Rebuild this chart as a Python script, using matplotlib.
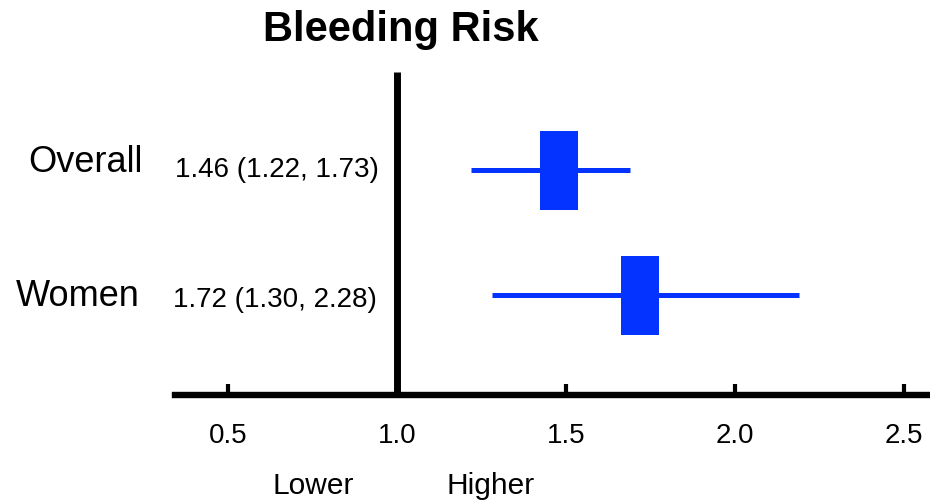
import matplotlib
matplotlib.use("Agg")
import matplotlib.pyplot as plt
from matplotlib.patches import Rectangle

# ---- data ----
groups = ["Overall", "Women"]
estimates = [1.48, 1.72]
ci_low = [1.22, 1.28]
ci_high = [1.69, 2.19]
stat_labels = ["1.46 (1.22, 1.73)", "1.72 (1.30, 2.28)"]
tick_values = [0.5, 1.0, 1.5, 2.0, 2.5]
tick_labels = ["0.5", "1.0", "1.5", "2.0", "2.5"]
ref_value = 1.0
title = "Bleeding Risk"
direction_labels = ["Lower", "Higher"]

# ---- layout ----
W, H, DPI = 930, 504, 100
plt.rcParams['font.family'] = ['Liberation Sans', 'DejaVu Sans']
fig = plt.figure(figsize=(W / DPI, H / DPI), dpi=DPI)
ax = fig.add_axes([0, 0, 1, 1])
ppu = 338.0          # pixels per unit
x_at_1 = 397.0       # pixel of value 1.0
ax.set_xlim(1 - x_at_1 / ppu, 1 + (W - x_at_1) / ppu)
ax.set_ylim(H, 0)    # pixel rows, top-down

row_y = [170, 295]
axis_y = 395
blue = '#0433FF'
box_w_px, box_h_px = 38, 79

for i, g in enumerate(groups):
    y = row_y[i]
    ax.plot([ci_low[i], ci_high[i]], [y, y], color=blue, lw=3.6,
            solid_capstyle='butt', zorder=2)
    bw = box_w_px / ppu
    ax.add_patch(Rectangle((estimates[i] - bw / 2, y - box_h_px / 2), bw, box_h_px,
                           facecolor=blue, edgecolor='none', zorder=3))

# reference line
ax.vlines(ref_value, 72, axis_y, color='black', lw=5, zorder=4)

# axis
for s in ['top', 'left', 'right']:
    ax.spines[s].set_visible(False)
ax.spines['bottom'].set_position(('data', axis_y))
ax.spines['bottom'].set_linewidth(4.6)
ax.spines['bottom'].set_bounds(1 - (x_at_1 - 175) / ppu, 1 + (W - x_at_1) / ppu)
ax.set_xticks(tick_values)
ax.set_xticklabels(tick_labels, fontsize=20)
ax.tick_params(axis='x', direction='in', length=8, width=3, pad=20, colors='black')
ax.set_yticks([])

# texts
fig.text(401 / W, 1 - 30 / H, title, ha='center', va='center',
         fontsize=30, fontweight='bold')
group_x = [143, 140]
group_ty = [163, 297]
stat_x = [379, 377]
stat_ty = [170, 300]
for i in range(len(groups)):
    fig.text(group_x[i] / W, 1 - group_ty[i] / H, groups[i], ha='right',
             va='center', fontsize=26)
    fig.text(stat_x[i] / W, 1 - stat_ty[i] / H, stat_labels[i], ha='right',
             va='center', fontsize=20)
dir_x = [313, 491]
for i, t in enumerate(direction_labels):
    fig.text(dir_x[i] / W, 1 - 486 / H, t, ha='center', va='center', fontsize=21.5)

fig.savefig("out.png", dpi=DPI)
